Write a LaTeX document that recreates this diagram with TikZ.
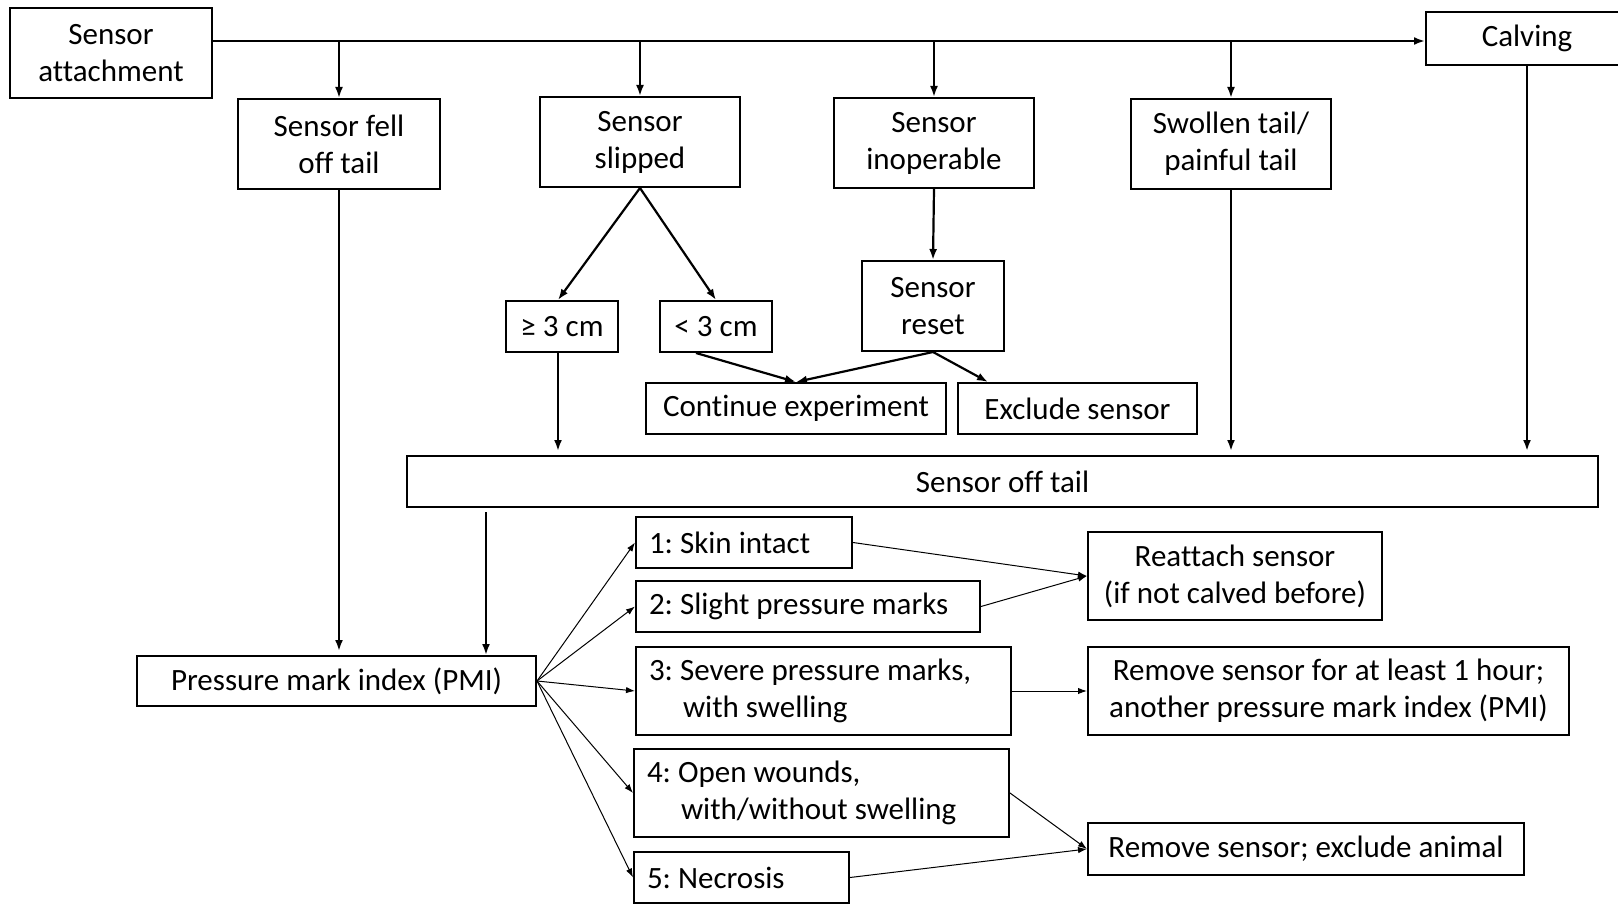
\documentclass[tikz,border=0pt]{standalone}
\usepackage{fontspec}
\setmainfont{Carlito}[Ligatures=NoCommon]
\usetikzlibrary{arrows.meta,calc}
\frenchspacing
\tikzset{
  sz/.style 2 args={minimum width=#1*0.5pt, minimum height=#2*0.5pt},
  box/.style={draw, line width=1pt, inner sep=0pt, align=center,
    font=\fontsize{15.5}{18.5}\selectfont\frenchspacing},
  lbox/.style 2 args={box, align=flush left, inner xsep=6.5pt, text width=#1*0.5pt-13pt, minimum height=#2*0.5pt},
  thk/.style={line width=1.1pt, -{Latex[length=5.5pt,width=4pt]}},
  thn/.style={line width=0.5pt, -{Latex[length=4.5pt,width=3.2pt]}}
}
\begin{document}
\begin{tikzpicture}[x=0.5pt,y=-0.5pt]
\useasboundingbox (0,0) rectangle (1618,904);

% top row
\node[box, sz={202}{90}] (att) at (111,53) {Sensor\\attachment};
\node[box, sz={202}{53}] (calv) at (1527,38.5) {Calving};
\node[box, sz={202}{90}] (fell) at (339,144) {Sensor fell\\off tail};
\node[box, sz={200}{90}] (slip) at (640,142) {Sensor\\slipped};
\node[box, sz={200}{90}] (inop) at (934,143) {Sensor\\inoperable};
\node[box, sz={200}{90}] (swol) at (1231,144) {Swollen tail/\\painful tail};

% middle
\node[box, sz={112}{51}] (ge) at (562,326.5) {≥ 3 cm};
\node[box, sz={112}{51}] (lt) at (716,326.5) {< 3 cm};
\node[box, sz={142}{90}] (reset) at (933,306) {Sensor\\reset};
\node[box, sz={300}{51}] (cont) at (796,408.5) {Continue experiment};
\node[box, sz={239}{51}] (excl) at (1077.5,408.5) {Exclude sensor};
\node[box, sz={1191}{51}] (off) at (1002.5,481.5) {Sensor off tail};

% bottom
\node[box, sz={399}{50}] (pmi) at (336.5,681) {Pressure mark index (PMI)};
\node[lbox={216}{51}] (p1) at (744,542.5) {1: Skin intact};
\node[lbox={344}{51}] (p2) at (808,606.5) {2: Slight pressure marks};
\node[lbox={375}{88}] (p3) at (823.5,691) {3: Severe pressure marks,\\\hspace*{17pt}with swelling};
\node[lbox={375}{88}] (p4) at (821.5,793) {4: Open wounds,\\\hspace*{17pt}with/without swelling};
\node[lbox={215}{51}] (p5) at (741.5,877.5) {5: Necrosis};
\node[box, sz={294}{88}] (reat) at (1235,576) {Reattach sensor\\(if not calved before)};
\node[box, sz={481}{88}] (rem1) at (1328.5,691) {Remove sensor for at least 1 hour;\\another pressure mark index (PMI)};
\node[box, sz={436}{52}] (remx) at (1306,849) {Remove sensor; exclude animal};

% top line and branches
\coordinate (ty) at (0,41);
\draw[thk] (att.east |- ty) -- (calv.west |- ty);
\draw[thk] (fell.north |- ty) -- (fell.north);
\draw[thk] (slip.north |- ty) -- (slip.north);
\draw[thk] (inop.north |- ty) -- (inop.north);
\draw[thk] (swol.north |- ty) -- (swol.north);

% slipped / inoperable
\draw[thk] (slip.south) -- ($(ge.north)+(-4,0)$);
\draw[thk] (slip.south) -- (lt.north);
\draw[thk] (inop.south) -- (reset.north);
\draw[thk] ($(lt.south)+(-20,0)$) -- (cont.north);
\draw[thk] (reset.south) -- (cont.north);
\draw[thk] (reset.south) -- ($(excl.north west)+(31,0)$);

% to sensor off tail
\draw[thk] ($(ge.south)+(-4,0)$) -- ($(ge.south |- off.north)+(-4,-4)$);
\draw[thk] (swol.south) -- ($(swol.south |- off.north)+(0,-4)$);
\draw[thk] (calv.south) -- ($(calv.south |- off.north)+(0,-4)$);

% to PMI
\coordinate (ox) at (486,0);
\draw[thk] (fell.south) -- ($(fell.south |- pmi.north)+(0,-4)$);
\draw[thk] ($(off.south -| ox)+(0,4)$) -- (pmi.north -| ox);

% PMI to categories
\foreach \n in {p1,p2,p3,p4,p5} \draw[thn] (pmi.east) -- (\n.west);
\draw[thn] (p1.east) -- (reat.west);
\draw[thn] (p2.east) -- (reat.west);
\draw[thn] (p3.east) -- (rem1.west);
\draw[thn] (p4.east) -- (remx.west);
\draw[thn] (p5.east) -- (remx.west);
\end{tikzpicture}
\end{document}
